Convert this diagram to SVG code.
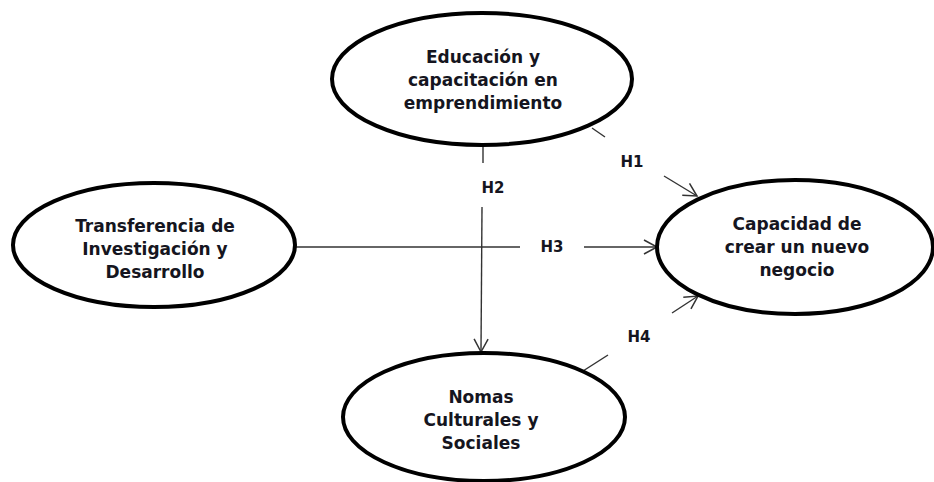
<svg xmlns="http://www.w3.org/2000/svg" width="934" height="482" viewBox="0 0 934 482">
<style>
.node{fill:#fff;stroke:#000;stroke-width:4}
.t{font-family:"DejaVu Sans",Verdana,sans-serif;font-weight:bold;font-size:17px;fill:#151520;text-anchor:middle}
.lbl{font-family:"DejaVu Sans",Verdana,sans-serif;font-weight:bold;font-size:15px;fill:#151520;text-anchor:middle}
.c{stroke:#333;stroke-width:1.4;fill:none}
</style>
<defs>
<marker id="arr" markerUnits="userSpaceOnUse" markerWidth="16" markerHeight="16" viewBox="0 0 16 16" refX="14" refY="8" orient="auto">
<path d="M1,1 L14,8 L1,15" fill="none" stroke="#333" stroke-width="1.5"/>
</marker>
</defs>
<rect width="934" height="482" fill="#fff"/>
<g id="connectors">
<line class="c" x1="592" y1="128" x2="605" y2="137"/>
<line class="c" x1="664" y1="176" x2="697" y2="196" marker-end="url(#arr)"/>
<line class="c" x1="483" y1="146" x2="483" y2="163"/>
<line class="c" x1="482" y1="207" x2="481" y2="352" marker-end="url(#arr)"/>
<line class="c" x1="296" y1="247" x2="520" y2="247"/>
<line class="c" x1="584" y1="247" x2="657" y2="247" marker-end="url(#arr)"/>
<line class="c" x1="583" y1="371" x2="608" y2="355"/>
<line class="c" x1="672" y1="313" x2="698" y2="296" marker-end="url(#arr)"/>
<text class="lbl" x="632" y="167">H1</text>
<text class="lbl" x="493" y="193">H2</text>
<text class="lbl" x="552" y="252">H3</text>
<text class="lbl" x="639" y="342">H4</text>
</g>
<g id="n-educacion">
<ellipse class="node" cx="482" cy="79" rx="150" ry="66"/>
<text class="t" x="483" y="63">Educación y</text>
<text class="t" x="483" y="86">capacitación en</text>
<text class="t" x="483" y="109">emprendimiento</text>
</g>
<g id="n-transferencia">
<ellipse class="node" cx="154" cy="245" rx="141" ry="62"/>
<text class="t" x="155" y="232">Transferencia de</text>
<text class="t" x="155" y="255">Investigación y</text>
<text class="t" x="155" y="278">Desarrollo</text>
</g>
<g id="n-capacidad">
<ellipse class="node" cx="795" cy="247" rx="138" ry="67"/>
<text class="t" x="797" y="230">Capacidad de</text>
<text class="t" x="797" y="253">crear un nuevo</text>
<text class="t" x="797" y="276">negocio</text>
</g>
<g id="n-normas">
<ellipse class="node" cx="484" cy="417" rx="141" ry="64"/>
<text class="t" x="481" y="403">Nomas</text>
<text class="t" x="481" y="426">Culturales y</text>
<text class="t" x="481" y="449">Sociales</text>
</g>
</svg>
